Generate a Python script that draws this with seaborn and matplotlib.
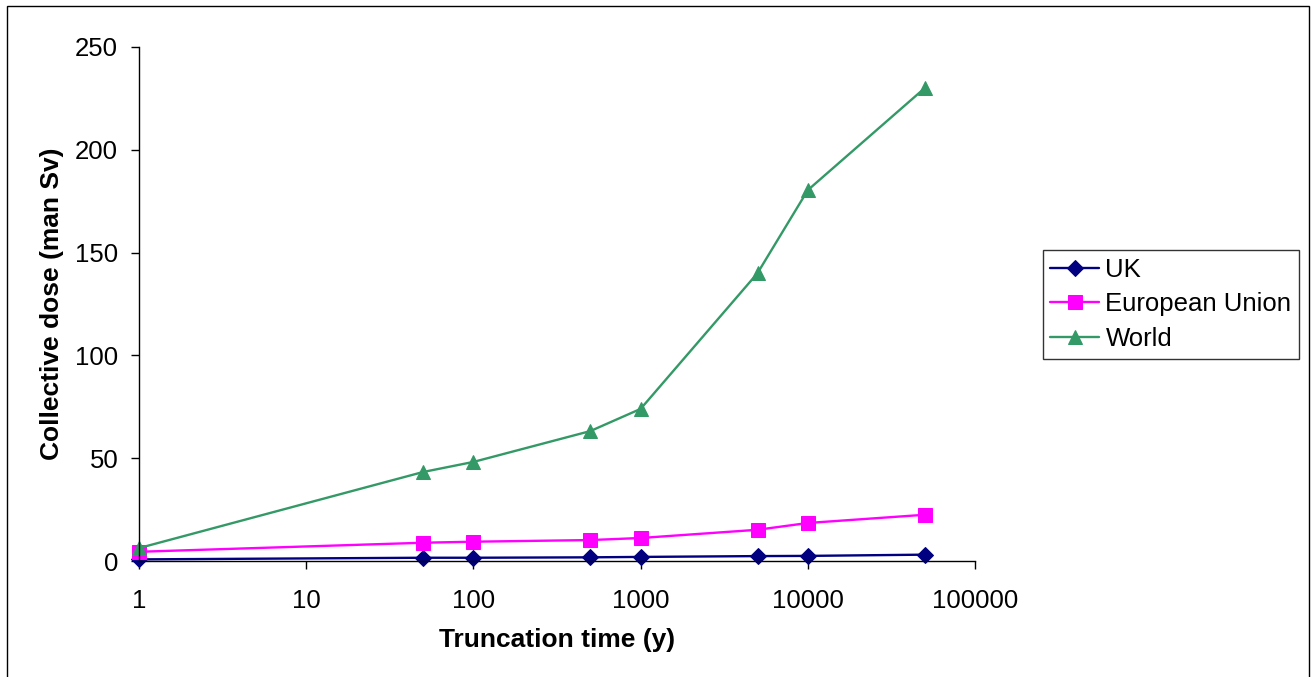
import pandas as pd
import numpy as np
import matplotlib
matplotlib.use("Agg")
import matplotlib.pyplot as plt
import seaborn as sns

# truncation times (y) and collective dose (man Sv)
times = [1, 50, 100, 500, 1000, 5000, 10000, 50000]
uk = [0.8, 1.6, 1.6, 1.8, 2.0, 2.4, 2.5, 3.1]
eu = [4.5, 8.9, 9.4, 10.2, 11.2, 15.2, 18.5, 22.5]
world = [6.3, 43.3, 48.2, 63.2, 74.0, 140.0, 180.4, 230.0]
series = ["UK", "European Union", "World"]

df = pd.concat([
    pd.DataFrame({"time": times, "dose": uk, "region": "UK"}),
    pd.DataFrame({"time": times, "dose": eu, "region": "European Union"}),
    pd.DataFrame({"time": times, "dose": world, "region": "World"}),
])

sns.set_style("white")
plt.rcParams["font.family"] = ["Liberation Sans", "DejaVu Sans"]
plt.rcParams["text.color"] = "black"

fig = plt.figure(figsize=(13.13, 6.77), dpi=100)
ax = fig.add_axes([0.1059, 0.1713, 0.6367, 0.7593])

colors = {"UK": "#000080", "European Union": "#FF00FF", "World": "#339966"}
markers = {"UK": "D", "European Union": "s", "World": "^"}
sizes = {"UK": 8, "European Union": 10, "World": 10}

for name in series:
    sns.lineplot(data=df[df.region == name], x="time", y="dose", ax=ax,
                 color=colors[name], marker=markers[name], markersize=sizes[name],
                 markeredgecolor=colors[name], linewidth=1.7, label=name)

ax.set_xscale("log")
ax.set_xlim(1, 100000)
ax.set_ylim(0, 250)
ax.set_xticks([1, 10, 100, 1000, 10000, 100000])
ax.set_xticklabels(["1", "10", "100", "1000", "10000", "100000"])
ax.xaxis.set_minor_locator(matplotlib.ticker.NullLocator())
ax.set_yticks([0, 50, 100, 150, 200, 250])
ax.tick_params(axis="both", direction="out", length=6, width=1, colors="black",
               labelcolor="black", labelsize=18.5, bottom=True, left=True)
ax.tick_params(axis="x", pad=14)
ax.tick_params(axis="y", pad=9)
for s in ["top", "right"]:
    ax.spines[s].set_visible(False)
for s in ["left", "bottom"]:
    ax.spines[s].set_color("black")
    ax.spines[s].set_linewidth(1)
ax.set_xlabel("Truncation time (y)", fontsize=19, fontweight="bold", labelpad=11, color="black")
ax.set_ylabel("Collective dose (man Sv)", fontsize=19, fontweight="bold", labelpad=8, color="black")
for c in ax.lines:
    c.set_clip_on(False)

leg = ax.legend(loc="upper left", bbox_to_anchor=(0.794, 0.631), bbox_transform=fig.transFigure,
                frameon=True, fancybox=False, edgecolor="black", fontsize=18.5,
                handlelength=1.9, handletextpad=0.25, borderpad=0.3, labelspacing=0.42,
                borderaxespad=0)
leg.get_frame().set_linewidth(1)
for t in leg.get_texts():
    t.set_color("black")

fig.patches.append(plt.Rectangle((0.005, -0.01), 0.992, 1.001, transform=fig.transFigure,
                                 fill=False, edgecolor="black", linewidth=1))

fig.savefig("out.png", dpi=100)
